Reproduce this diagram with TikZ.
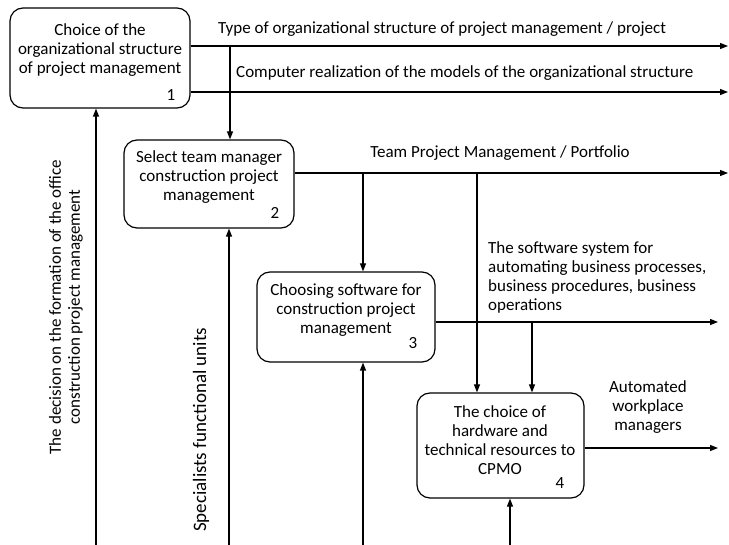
\documentclass[tikz,border=0pt]{standalone}
\usepackage{fontspec}
\setmainfont{Carlito}
\usetikzlibrary{arrows.meta}
\begin{document}
\begin{tikzpicture}[x=1pt,y=-1pt,
  font=\fontsize{17}{19}\selectfont,
  box/.style={draw,line width=1.2pt,rounded corners=13pt,inner sep=0pt},
  txt/.style={align=center,inner sep=0pt},
  num/.style={inner sep=0pt},
  lab/.style={inner sep=0pt,anchor=west},
  arr/.style={line width=1.2pt,-{Triangle[length=8pt,width=6pt]}},
  ln/.style={line width=1.2pt}]
\useasboundingbox (0,0) rectangle (729,545);
% boxes
\node[box,minimum width=180pt,minimum height=100pt] (b1) at (100,58) {};
\node[box,minimum width=170pt,minimum height=88pt] (b2) at (209,184) {};
\node[box,minimum width=178pt,minimum height=90pt] (b3) at (346,317) {};
\node[box,minimum width=167pt,minimum height=105pt] (b4) at (500.5,445.5) {};
% box texts
\node[txt] (t1) at (100,50) {Choice of the\\organizational structure\\of project management};
\node[num] (n1) at (171,95) {1};
\node[txt] (t2) at (209,177.5) {Select team manager\\construction project\\management};
\node[num] (n2) at (275,213) {2};
\node[txt] (t3) at (346,310) {Choosing software for\\construction project\\management};
\node[num] (n3) at (413,343) {3};
\node[txt] (t4) at (500,440.5) {The choice of\\hardware and\\technical resources to\\CPMO};
\node[num] (n4) at (560,483) {4};
% coordinates
\coordinate (o1) at (728,46);
\coordinate (o2) at (728,92);
\coordinate (o3) at (728,173);
\coordinate (o4) at (718,322);
\coordinate (o5) at (718,448);
\coordinate (j1) at (230,46);
\coordinate (j2) at (363,173);
\coordinate (j3) at (477,173);
\coordinate (j4) at (532,322);
\coordinate (i1) at (96,545);
\coordinate (i2) at (229,545);
\coordinate (i3) at (363,545);
\coordinate (i4) at (510,545);
% outputs
\draw[arr] (b1.east |- o1) -- (o1);
\draw[arr] (b1.east |- o2) -- (o2);
\draw[arr] (j1) -- (j1 |- b2.north);
\draw[arr] (b2.east |- o3) -- (o3);
\draw[arr] (j2) -- (j2 |- b3.north);
\draw[arr] (j3) -- (j3 |- b4.north);
\draw[arr] (b3.east |- o4) -- (o4);
\draw[arr] (j4) -- (j4 |- b4.north);
\draw[arr] (b4.east |- o5) -- (o5);
% inputs
\draw[arr] (i1) -- (i1 |- b1.south);
\draw[arr] (i2) -- (i2 |- b2.south);
\draw[arr] (i3) -- (i3 |- b3.south);
\draw[arr] (i4) -- (i4 |- b4.south);
% labels
\node[lab] (l1) at (218,29) {Type of organizational structure of project management / project};
\node[lab] (l2) at (236,73) {Computer realization of the models of the organizational structure};
\node[txt] (l3) at (500,153) {Team Project Management / Portfolio};
\node[txt,align=left,anchor=north west] (l4) at (488,241) {The software system for\\automating business processes,\\business procedures, business\\operations};
\node[txt] (l5) at (648,407) {Automated\\workplace\\managers};
\node[txt,rotate=90] (l6) at (66,307) {The decision on the formation of the office\\construction project management};
\node[txt,rotate=90,font=\fontsize{19}{21}\selectfont] (l7) at (201,430) {Specialists functional units};
\end{tikzpicture}
\end{document}
